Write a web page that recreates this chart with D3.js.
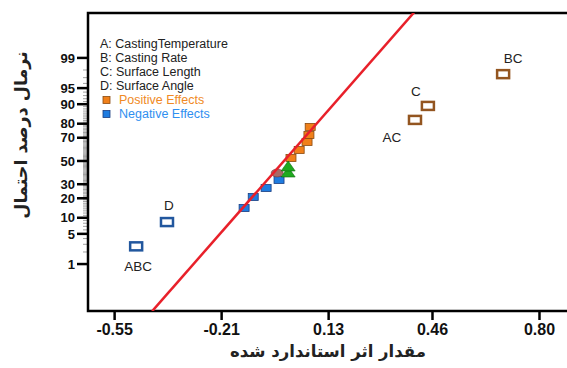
<!DOCTYPE html>
<meta charset="utf-8">
<script src="https://d3js.org/d3.v7.min.js"></script>
<style>
  body { margin: 0; background: #fff; }
  svg { display: block; }
</style>
<div id="chart"></div>
<script>

// effect values (standardized) and normal probability (%)
var negEffects = [-0.137, -0.108, -0.067, -0.026];
var negPct     = [14.4, 20.8, 27.1, 33.4];

var posEffects = [0.012, 0.038, 0.063, 0.069, 0.073];
var posPct     = [52.7, 59.8, 66.6, 72.1, 77.9];

var triEffects = [0.003, 0.003];
var triPct     = [39.3, 44.6];

var ovalEffects = [-0.032];
var ovalPct     = [39.3];

// labelled (significant) effects
var sigNames   = ["ABC", "D", "AC", "C", "BC"];
var sigEffects = [-0.48, -0.382, 0.406, 0.447, 0.686];
var sigPct     = [2.7, 8.4, 82.3, 89.3, 97.5];
var sigSign    = ["neg", "neg", "pos", "pos", "pos"];

// fitted normal line, two end points
var fitEffects = [-0.429, 0.403];
var fitPct     = [0.035, 99.96];

var xTicks = [-0.55, -0.21, 0.13, 0.46, 0.80];
var xTickLabels = ["-0.55", "-0.21", "0.13", "0.46", "0.80"];
var yTicks = [1, 5, 10, 20, 30, 50, 70, 80, 90, 95, 99];

var legendLines = ["A: CastingTemperature", "B: Casting Rate", "C: Surface Length", "D: Surface Angle"];

var W = 567, H = 368;
var mLeft = 88, mTop = 13, mRight = 567, mBottom = 311;

var svg = d3.select("#chart").append("svg")
  .attr("width", W).attr("height", H);

// inverse normal cdf (Acklam)
function probit(p) {
  var a = [-3.969683028665376e+01, 2.209460984245205e+02, -2.759285104469687e+02, 1.383577518672690e+02, -3.066479806614716e+01, 2.506628277459239e+00];
  var b = [-5.447609879822406e+01, 1.615858368580409e+02, -1.556989798598866e+02, 6.680131188771972e+01, -1.328068155288572e+01];
  var c = [-7.784894002430293e-03, -3.223964580411365e-01, -2.400758277161838e+00, -2.549732539343734e+00, 4.374664141464968e+00, 2.938163982698783e+00];
  var d = [7.784695709041462e-03, 3.224671290700398e-01, 2.445134137142996e+00, 3.754408661907416e+00];
  var pl = 0.02425, q, r;
  if (p < pl) {
    q = Math.sqrt(-2 * Math.log(p));
    return (((((c[0]*q+c[1])*q+c[2])*q+c[3])*q+c[4])*q+c[5]) / ((((d[0]*q+d[1])*q+d[2])*q+d[3])*q+1);
  }
  if (p > 1 - pl) {
    q = Math.sqrt(-2 * Math.log(1 - p));
    return -(((((c[0]*q+c[1])*q+c[2])*q+c[3])*q+c[4])*q+c[5]) / ((((d[0]*q+d[1])*q+d[2])*q+d[3])*q+1);
  }
  q = p - 0.5; r = q * q;
  return (((((a[0]*r+a[1])*r+a[2])*r+a[3])*r+a[4])*r+a[5])*q / (((((b[0]*r+b[1])*r+b[2])*r+b[3])*r+b[4])*r+1);
}

var x = d3.scaleLinear().domain([-0.633, 0.889]).range([mLeft, mRight]);
var z = d3.scaleLinear().domain([-3.386, 3.34]).range([mBottom, mTop]);
var y = function(pct) { return z(probit(pct / 100)); };

// clip for the plot area
svg.append("defs").append("clipPath").attr("id", "clip")
  .append("rect").attr("x", mLeft).attr("y", mTop)
  .attr("width", mRight - mLeft).attr("height", mBottom - mTop);

// x axis
var xAxis = svg.append("g")
  .attr("transform", "translate(0," + mBottom + ")")
  .call(d3.axisBottom(x).tickValues(xTicks)
    .tickFormat(function(d, i) { return xTickLabels[i]; })
    .tickSize(9).tickSizeOuter(0));
xAxis.select(".domain").remove();
xAxis.selectAll(".tick line").attr("stroke", "#000").attr("stroke-width", 2.5);
xAxis.selectAll(".tick text")
  .attr("y", 12.5)
  .style("font-family", "'Liberation Sans', Arial, sans-serif")
  .style("font-weight", "bold").style("font-size", "16px").attr("fill", "#111");

// y minor ticks
var minor = d3.range(2, 99).filter(function(v) { return yTicks.indexOf(v) < 0; });
svg.append("g").selectAll("line").data(minor).enter().append("line")
  .attr("x1", mLeft - 5).attr("x2", mLeft)
  .attr("y1", function(d) { return y(d); }).attr("y2", function(d) { return y(d); })
  .attr("stroke", "#777").attr("stroke-width", 0.7);

// y major ticks
var yAxis = svg.append("g");
yAxis.selectAll("line").data(yTicks).enter().append("line")
  .attr("x1", mLeft - 11).attr("x2", mLeft)
  .attr("y1", function(d) { return y(d); }).attr("y2", function(d) { return y(d); })
  .attr("stroke", "#000").attr("stroke-width", 2.5);
yAxis.selectAll("text").data(yTicks).enter().append("text")
  .attr("x", mLeft - 13).attr("y", function(d) { return y(d); })
  .attr("dy", "0.36em").attr("text-anchor", "end")
  .style("font-family", "'Liberation Sans', Arial, sans-serif")
  .style("font-weight", "bold").style("font-size", "13px").attr("fill", "#111")
  .text(function(d) { return d; });

// frame
svg.append("path")
  .attr("d", "M" + mRight + "," + mTop + "H" + mLeft + "V" + mBottom + "H" + mRight)
  .attr("fill", "none").attr("stroke", "#000").attr("stroke-width", 2.5);

// legend
var lg = svg.append("g").style("font-family", "'Liberation Sans', Arial, sans-serif").style("font-size", "12.5px");
lg.selectAll("text.l").data(legendLines).enter().append("text")
  .attr("class", "l").attr("x", 100).attr("y", function(d, i) { return 44 + i * 14; })
  .attr("dy", "0.35em").attr("fill", "#222").text(function(d) { return d; });
lg.append("rect").attr("x", 103).attr("y", 96.5).attr("width", 7).attr("height", 7)
  .attr("fill", "#f0801a").attr("stroke", "#8a4a10").attr("stroke-width", 0.8);
lg.append("text").attr("x", 119).attr("y", 100).attr("dy", "0.35em")
  .attr("fill", "#f08a25").text("Positive Effects");
lg.append("rect").attr("x", 103).attr("y", 110.5).attr("width", 7).attr("height", 7)
  .attr("fill", "#1f7ce0").attr("stroke", "#1a3d80").attr("stroke-width", 0.8);
lg.append("text").attr("x", 119).attr("y", 114).attr("dy", "0.35em")
  .attr("fill", "#2f8ff0").text("Negative Effects");

var plot = svg.append("g").attr("clip-path", "url(#clip)");

function squares(xs, ps, fill, stroke) {
  plot.append("g").selectAll("rect").data(xs).enter().append("rect")
    .attr("x", function(d) { return x(d) - 5; })
    .attr("y", function(d, i) { return y(ps[i]) - 3.5; })
    .attr("width", 10).attr("height", 7)
    .attr("fill", fill).attr("stroke", stroke).attr("stroke-width", 0.8);
}
squares(negEffects, negPct, "#1f7ce0", "#1a3d80");
squares(posEffects, posPct, "#f0801a", "#8a4a10");

plot.append("g").selectAll("ellipse").data(ovalEffects).enter().append("ellipse")
  .attr("cx", function(d) { return x(d); })
  .attr("cy", function(d, i) { return y(ovalPct[i]); })
  .attr("rx", 6).attr("ry", 4)
  .attr("fill", "#a86a66").attr("stroke", "#6a3a3a").attr("stroke-width", 0.6);

plot.append("g").selectAll("path").data(triEffects).enter().append("path")
  .attr("transform", function(d, i) { return "translate(" + x(d) + "," + y(triPct[i]) + ")"; })
  .attr("d", "M0,-6L7,4L-7,4Z")
  .attr("fill", "#1faa1f").attr("stroke", "#0d6a0d").attr("stroke-width", 0.6);

// fitted line
var fit = fitEffects.map(function(v, i) { return [x(v), y(fitPct[i])]; });
plot.append("path").attr("d", d3.line()(fit))
  .attr("stroke", "#e8202a").attr("stroke-width", 2.5).attr("fill", "none");

// significant effects: hollow boxes
plot.append("g").selectAll("rect").data(sigEffects).enter().append("rect")
  .attr("x", function(d) { return x(d) - 6; })
  .attr("y", function(d, i) { return y(sigPct[i]) - 4; })
  .attr("width", 12).attr("height", 8)
  .attr("fill", "#fff")
  .attr("stroke", function(d, i) { return sigSign[i] == "pos" ? "#935520" : "#22579e"; })
  .attr("stroke-width", 2.5);

var offs = { ABC: [2, 20], D: [2, -17], AC: [-23, 17], C: [-12, -15], BC: [10, -16] };
svg.append("g").selectAll("text").data(sigNames).enter().append("text")
  .attr("x", function(d, i) { return x(sigEffects[i]) + offs[d][0]; })
  .attr("y", function(d, i) { return y(sigPct[i]) + offs[d][1]; })
  .attr("dy", "0.35em").attr("text-anchor", "middle")
  .style("font-family", "'Liberation Sans', Arial, sans-serif").style("font-size", "13.5px")
  .attr("fill", "#222").text(function(d) { return d; });

// axis titles
svg.append("text").attr("x", 328).attr("y", 357).attr("text-anchor", "middle")
  .style("font-family", "'DejaVu Sans', sans-serif").style("font-weight", "bold").style("font-size", "16.5px")
  .attr("fill", "#222").text("مقدار اثر استاندارد شده");

svg.append("text").attr("transform", "translate(21,135) rotate(-90)").attr("text-anchor", "middle")
  .attr("dy", "0.35em")
  .style("font-family", "'DejaVu Sans', sans-serif").style("font-weight", "bold").style("font-size", "17.5px")
  .attr("fill", "#222").text("نرمال درصد احتمال");

</script>
